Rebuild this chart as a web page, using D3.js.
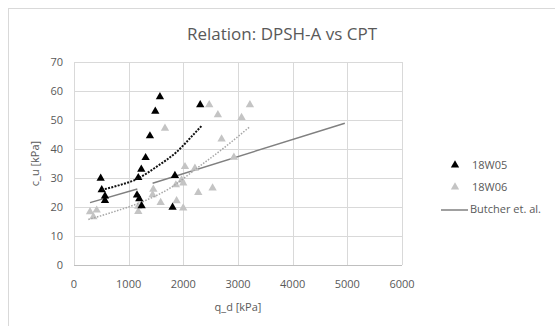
<!DOCTYPE html>
<html>
<head>
<meta charset="utf-8">
<script src="https://cdn.jsdelivr.net/npm/d3@7"></script>
<style>
  body { margin: 0; background: #fff; }
  text { font-family: "Open Sans", "Liberation Sans", sans-serif; fill: #595959; }
</style>
</head>
<body>
<div class="chart"></div>
<script>
// 18W05 (black triangles)
const w05Q = [488, 507, 567, 567, 1153, 1194, 1237, 1176, 1231, 1310, 1389, 1487, 1572, 1846, 1803, 2309];
const w05C = [29.9, 25.9, 23.8, 22.2, 24.1, 22.8, 20.4, 30.1, 33.0, 37.0, 44.5, 53.0, 58.0, 30.8, 19.9, 55.2];

// 18W06 (grey triangles)
const w06Q = [293, 354, 415, 1176, 1176, 1451, 1438, 1585, 1664, 1864, 1968, 1998, 2030, 2212, 1877, 1998, 2273, 2535, 2474, 2632, 2700, 2925, 3065, 3218];
const w06C = [18.3, 16.6, 18.9, 20.2, 18.4, 26.1, 24.2, 21.5, 47.1, 27.6, 29.3, 28.2, 33.9, 33.3, 22.1, 19.6, 25.0, 26.5, 55.2, 51.8, 43.4, 37.1, 50.8, 55.2];

// trend lines
const trend05Q = [507, 841, 1147, 1512, 1878, 2181, 2335];
const trend05C = [25.9, 27.6, 29.6, 33.9, 39.0, 44.9, 48.0];
const trend06Q = [262, 719, 1328, 1755, 2243, 2730, 3218];
const trend06C = [15.7, 18.3, 22.4, 26.5, 33.3, 40.2, 47.7];

// Butcher et. al. (two segments)
const butcherA_Q = [293, 1158];
const butcherA_C = [21.5, 26.2];
const butcherB_Q = [1438, 4954];
const butcherB_C = [28.2, 48.9];

const xTicks = [0, 1000, 2000, 3000, 4000, 5000, 6000];
const yTicks = [0, 10, 20, 30, 40, 50, 60, 70];
const legendNames = ["18W05", "18W06", "Butcher et. al."];

const W = 555, H = 326;
const margin = { top: 62, right: 153, bottom: 61, left: 74 };

const svg = d3.select(".chart").append("svg")
    .attr("width", W)
    .attr("height", H);

// chart border
svg.append("rect")
    .attr("x", 8.5).attr("y", 8.5)
    .attr("width", W).attr("height", H)
    .attr("fill", "#fff")
    .attr("stroke", "#d9d9d9");

const x = d3.scaleLinear().domain([0, 6000]).range([margin.left, W - margin.right]);
const y = d3.scaleLinear().domain([0, 70]).range([H - margin.bottom, margin.top]);

// grid
svg.append("g")
    .selectAll("line")
    .data(yTicks)
    .join("line")
    .attr("x1", x(0)).attr("x2", x(6000))
    .attr("y1", d => Math.round(y(d)) + 0.5).attr("y2", d => Math.round(y(d)) + 0.5)
    .attr("stroke", "#d9d9d9");

svg.append("g")
    .selectAll("line")
    .data(xTicks)
    .join("line")
    .attr("x1", d => Math.round(x(d)) + 0.5).attr("x2", d => Math.round(x(d)) + 0.5)
    .attr("y1", y(70)).attr("y2", y(0))
    .attr("stroke", "#d9d9d9");

// x axis line
svg.append("line")
    .attr("x1", x(0)).attr("x2", x(6000))
    .attr("y1", Math.round(y(0)) + 0.5).attr("y2", Math.round(y(0)) + 0.5)
    .attr("stroke", "#bfbfbf");

// tick labels
svg.append("g")
    .selectAll("text")
    .data(xTicks)
    .join("text")
    .attr("x", d => x(d))
    .attr("y", y(0) + 23)
    .attr("text-anchor", "middle")
    .attr("font-size", 11)
    .text(d => d);

svg.append("g")
    .selectAll("text")
    .data(yTicks)
    .join("text")
    .attr("x", x(0) - 11)
    .attr("y", d => y(d) + 4)
    .attr("text-anchor", "end")
    .attr("font-size", 11)
    .text(d => d);

// titles
svg.append("text")
    .attr("x", 282).attr("y", 40)
    .attr("text-anchor", "middle")
    .attr("font-size", 17)
    .text("Relation: DPSH-A vs CPT");

svg.append("text")
    .attr("x", x(3000)).attr("y", 311)
    .attr("text-anchor", "middle")
    .attr("font-size", 11)
    .text("q_d [kPa]");

svg.append("text")
    .attr("transform", `translate(39, ${y(35)}) rotate(-90)`)
    .attr("text-anchor", "middle")
    .attr("font-size", 11)
    .text("c_u [kPa]");

const line = d3.line().x(d => x(d[0])).y(d => y(d[1]));
const curve = d3.line().x(d => x(d[0])).y(d => y(d[1])).curve(d3.curveMonotoneX);

// Butcher
[[butcherA_Q, butcherA_C], [butcherB_Q, butcherB_C]].forEach(([q, c]) => {
    svg.append("path")
        .datum(d3.zip(q, c))
        .attr("fill", "none")
        .attr("stroke", "#808080")
        .attr("stroke-width", 1.5)
        .attr("d", line);
});

const tri = d3.symbol().type(d3.symbolTriangle).size(30);

// 18W06 points
svg.append("g")
    .selectAll("path")
    .data(d3.zip(w06Q, w06C))
    .join("path")
    .attr("transform", d => `translate(${x(d[0])},${y(d[1])})`)
    .attr("d", tri)
    .attr("fill", "#c4c4c4");

// trend 18W06
svg.append("path")
    .datum(d3.zip(trend06Q, trend06C))
    .attr("fill", "none")
    .attr("stroke", "#a6a6a6")
    .attr("stroke-width", 1.5)
    .attr("stroke-dasharray", "1.5,1.5")
    .attr("d", curve);

// 18W05 points
svg.append("g")
    .selectAll("path")
    .data(d3.zip(w05Q, w05C))
    .join("path")
    .attr("transform", d => `translate(${x(d[0])},${y(d[1])})`)
    .attr("d", tri)
    .attr("fill", "#000");

// trend 18W05
svg.append("path")
    .datum(d3.zip(trend05Q, trend05C))
    .attr("fill", "none")
    .attr("stroke", "#111")
    .attr("stroke-width", 2)
    .attr("stroke-dasharray", "2,1.3")
    .attr("d", curve);

// legend
const lg = svg.append("g").attr("transform", "translate(455, 0)");
lg.append("path").attr("transform", "translate(0,165)").attr("d", tri).attr("fill", "#000");
lg.append("path").attr("transform", "translate(0,187)").attr("d", tri).attr("fill", "#c4c4c4");
lg.append("line").attr("x1", -14).attr("x2", 13).attr("y1", 210).attr("y2", 210)
    .attr("stroke", "#808080").attr("stroke-width", 1.5);
lg.selectAll("text")
    .data(legendNames)
    .join("text")
    .attr("x", (d, i) => i < 2 ? 17 : 15)
    .attr("y", (d, i) => 169 + i * 22)
    .attr("font-size", 11)
    .text(d => d);
</script>
</body>
</html>
